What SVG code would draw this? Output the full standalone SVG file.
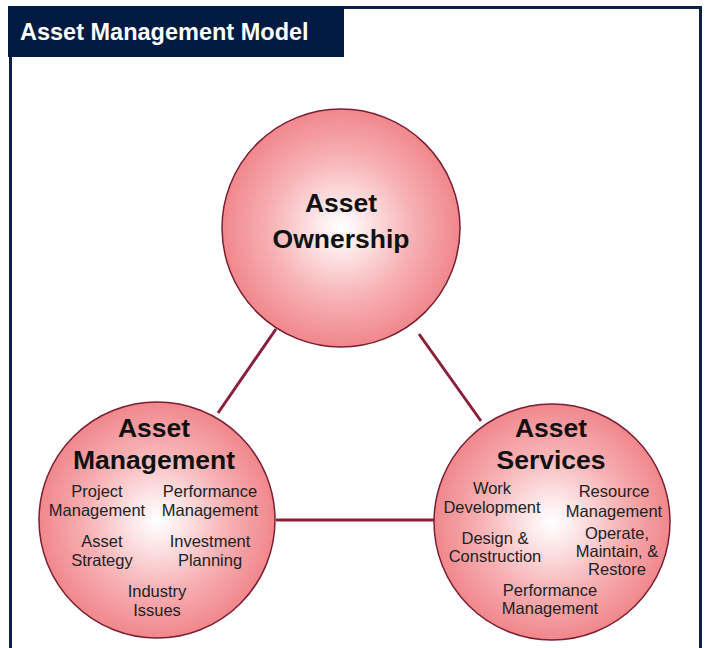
<svg xmlns="http://www.w3.org/2000/svg" width="707" height="648" viewBox="0 0 707 648">
<defs>
<radialGradient id="pink" cx="50%" cy="50%" r="50%">
<stop offset="0" stop-color="#ffffff"/>
<stop offset="0.2" stop-color="#fde8e9"/>
<stop offset="0.6" stop-color="#f7b1b4"/>
<stop offset="1" stop-color="#f0878c"/>
</radialGradient>
<style>
.circ{fill:url(#pink);stroke:#7a1f33;stroke-width:1.5}
.big{font-family:"Liberation Sans",Arial,sans-serif;font-weight:bold;font-size:26.5px;fill:#111;text-anchor:middle}
.sm{font-family:"Liberation Sans",Arial,sans-serif;font-size:16.5px;fill:#222;text-anchor:middle}
.conn{stroke:#8b1f3a;stroke-width:3;fill:none}
</style>
</defs>
<rect x="0" y="0" width="707" height="648" fill="#ffffff"/>
<rect x="10.5" y="7.5" width="690" height="660" fill="none" stroke="#0b1f47" stroke-width="3"/>
<g id="title">
<rect x="8" y="6" width="336" height="51" fill="#001a42"/>
<text x="20" y="40" font-family="Liberation Sans,Arial,sans-serif" font-weight="bold" font-size="23.5" fill="#ffffff">Asset Management Model</text>
</g>
<g id="connectors">
<line class="conn" x1="276" y1="329" x2="218" y2="413"/>
<line class="conn" x1="419" y1="334" x2="481" y2="421"/>
<line class="conn" x1="276" y1="520" x2="434" y2="520"/>
</g>
<g id="asset-ownership">
<circle class="circ" cx="341" cy="228" r="119"/>
<text class="big" x="341" y="212">Asset</text>
<text class="big" x="341" y="248">Ownership</text>
</g>
<g id="asset-management">
<circle class="circ" cx="157" cy="520" r="118"/>
<text class="big" x="154" y="437">Asset</text>
<text class="big" x="154" y="469">Management</text>
<text class="sm" x="97" y="497">Project</text>
<text class="sm" x="97" y="516">Management</text>
<text class="sm" x="210" y="497">Performance</text>
<text class="sm" x="210" y="516">Management</text>
<text class="sm" x="102" y="547">Asset</text>
<text class="sm" x="102" y="566">Strategy</text>
<text class="sm" x="210" y="547">Investment</text>
<text class="sm" x="210" y="566">Planning</text>
<text class="sm" x="157" y="597">Industry</text>
<text class="sm" x="157" y="616">Issues</text>
</g>
<g id="asset-services">
<circle class="circ" cx="552" cy="522" r="118"/>
<text class="big" x="551" y="437">Asset</text>
<text class="big" x="551" y="469">Services</text>
<text class="sm" x="492" y="494">Work</text>
<text class="sm" x="492" y="513">Development</text>
<text class="sm" x="614" y="497">Resource</text>
<text class="sm" x="614" y="517">Management</text>
<text class="sm" x="495" y="544">Design &amp;</text>
<text class="sm" x="495" y="562">Construction</text>
<text class="sm" x="617" y="539">Operate,</text>
<text class="sm" x="617" y="557">Maintain, &amp;</text>
<text class="sm" x="617" y="575">Restore</text>
<text class="sm" x="550" y="596">Performance</text>
<text class="sm" x="550" y="614">Management</text>
</g>
</svg>
